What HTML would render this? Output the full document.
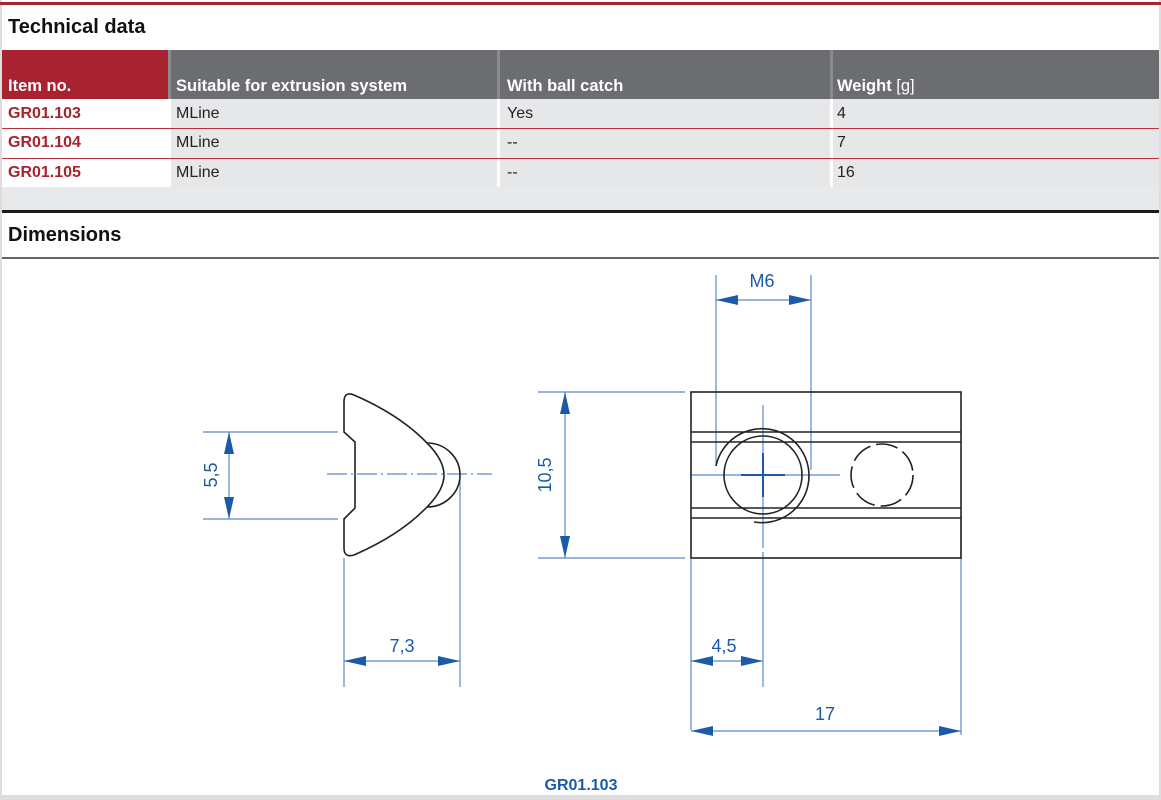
<!DOCTYPE html>
<html><head><meta charset="utf-8"><style>
body{margin:0;width:1161px;height:800px;background:#fff;position:relative;overflow:hidden;font-family:"Liberation Sans",sans-serif}
.a{position:absolute}
.h{font-weight:bold;color:#fff;font-size:16.5px}
.c{font-size:16px;color:#222}
.r{font-size:16px;color:#a8232f;font-weight:bold}
</style></head><body>
<div class="a" style="left:0;top:0;width:2px;height:800px;background:#ddd"></div>
<div class="a" style="left:1159px;top:0;width:2px;height:800px;background:#ddd"></div>
<div class="a" style="left:0;top:2px;width:1161px;height:3px;background:#a8232f"></div>
<div class="a" style="left:8px;top:16px;font-size:20px;font-weight:bold;color:#111">Technical data</div>
<div class="a" style="left:2px;top:50px;width:166px;height:49px;background:#a8232f"></div>
<div class="a" style="left:168px;top:50px;width:991px;height:49px;background:#6c6d71"></div>
<div class="a" style="left:168px;top:50px;width:3px;height:49px;background:#8a8b8f"></div>
<div class="a" style="left:497px;top:50px;width:3px;height:49px;background:#8a8b8f"></div>
<div class="a" style="left:830px;top:50px;width:3px;height:49px;background:#8a8b8f"></div>
<div class="a h" style="left:8px;top:77px">Item no.</div>
<div class="a h" style="left:176px;top:77px">Suitable for extrusion system</div>
<div class="a h" style="left:507px;top:77px">With ball catch</div>
<div class="a h" style="left:837px;top:77px">Weight <span style="font-weight:normal">[g]</span></div>
<div class="a" style="left:171px;top:99px;width:988px;height:88px;background:#e6e7e9"></div>
<div class="a" style="left:497px;top:99px;width:3px;height:88px;background:#fff"></div>
<div class="a" style="left:830px;top:99px;width:3px;height:88px;background:#fff"></div>
<div class="a" style="left:2px;top:128px;width:1157px;height:1px;background:#b7303b"></div>
<div class="a" style="left:2px;top:158px;width:1157px;height:1px;background:#b7303b"></div>
<div class="a" style="left:2px;top:187px;width:1157px;height:23px;background:#e8e9eb"></div>
<div class="a" style="left:2px;top:210px;width:1157px;height:3px;background:#1a1a1a"></div>
<div class="a" style="left:2px;top:257px;width:1157px;height:2px;background:#666"></div>
<div class="a" style="left:0;top:795px;width:1161px;height:5px;background:#ddd"></div>
<div class="a r" style="left:8px;top:105px">GR01.103</div>
<div class="a r" style="left:8px;top:134px">GR01.104</div>
<div class="a r" style="left:8px;top:164px">GR01.105</div>
<div class="a c" style="left:176px;top:105px">MLine</div>
<div class="a c" style="left:176px;top:134px">MLine</div>
<div class="a c" style="left:176px;top:164px">MLine</div>
<div class="a c" style="left:507px;top:105px">Yes</div>
<div class="a c" style="left:507px;top:134px">--</div>
<div class="a c" style="left:507px;top:164px">--</div>
<div class="a c" style="left:837px;top:105px">4</div>
<div class="a c" style="left:837px;top:134px">7</div>
<div class="a c" style="left:837px;top:164px">16</div>
<div class="a" style="left:8px;top:224px;font-size:20px;font-weight:bold;color:#111">Dimensions</div>
<svg class="a" style="left:0;top:0" width="1161" height="800">
<defs><marker id="m" viewBox="0 0 22 10" refX="22" refY="5" markerWidth="22" markerHeight="10" markerUnits="userSpaceOnUse" orient="auto-start-reverse"><path d="M0,0L22,5L0,10z" fill="#1a5aa8"/></marker></defs>
<g stroke="#5b8ac8" stroke-width="1.2" fill="none">
<line x1="203" y1="432" x2="338" y2="432"/><line x1="203" y1="519" x2="338" y2="519"/>
<line x1="229" y1="432" x2="229" y2="519" marker-start="url(#m)" marker-end="url(#m)"/>
<line x1="327" y1="474" x2="492" y2="474" stroke-dasharray="20,4,2,4"/>
<line x1="344" y1="558" x2="344" y2="687"/><line x1="460" y1="478" x2="460" y2="687"/>
<line x1="344" y1="661" x2="460" y2="661" marker-start="url(#m)" marker-end="url(#m)"/>
<line x1="716" y1="275" x2="716" y2="465"/><line x1="811" y1="275" x2="811" y2="470"/>
<line x1="716" y1="300" x2="811" y2="300" marker-start="url(#m)" marker-end="url(#m)"/>
<line x1="538" y1="392" x2="685" y2="392"/><line x1="538" y1="558" x2="685" y2="558"/>
<line x1="565" y1="392" x2="565" y2="558" marker-start="url(#m)" marker-end="url(#m)"/>
<line x1="691" y1="558" x2="691" y2="730"/><line x1="763" y1="552" x2="763" y2="687"/>
<line x1="691" y1="661" x2="763" y2="661" marker-start="url(#m)" marker-end="url(#m)"/>
<line x1="961" y1="515" x2="961" y2="735"/>
<line x1="691" y1="731" x2="961" y2="731" marker-start="url(#m)" marker-end="url(#m)"/>
<line x1="690" y1="475" x2="840" y2="475"/><line x1="763" y1="405" x2="763" y2="548"/>
</g>
<g stroke="#1a5aa8" stroke-width="2"><line x1="741" y1="475" x2="785" y2="475"/><line x1="763" y1="453" x2="763" y2="497"/></g>
<g stroke="#222" stroke-width="1.6" fill="none">
<path d="M344,432 L355,442 L355,508 L344,519 L344,548 Q344,558 354,555 Q400,535 427,507 Q444,490 444,475 Q444,460 427,443 Q400,415 354,395 Q344,391 344,402 Z"/>
<path d="M427,443 A33,32 0 0 1 427,507"/>
<rect x="691" y="392" width="270" height="166"/>
<line x1="691" y1="432" x2="961" y2="432"/><line x1="691" y1="442" x2="961" y2="442"/>
<line x1="691" y1="508" x2="961" y2="508"/><line x1="691" y1="518" x2="961" y2="518"/>
<circle cx="763" cy="475" r="39"/>
<path d="M716,466 A47,47 0 1 1 754,522"/>
<circle cx="882" cy="475" r="31" stroke-dasharray="22,6"/>
</g>
<g fill="#1a5aa8" font-size="18" font-family="Liberation Sans,sans-serif" text-anchor="middle">
<text x="762" y="287">M6</text>
<text x="402" y="652">7,3</text>
<text x="724" y="652">4,5</text>
<text x="825" y="720">17</text>
<text transform="translate(217,475) rotate(-90)">5,5</text>
<text transform="translate(551,475) rotate(-90)">10,5</text>
<text x="581" y="790" font-size="16" font-weight="bold">GR01.103</text>
</g>
</svg>
</body></html>
